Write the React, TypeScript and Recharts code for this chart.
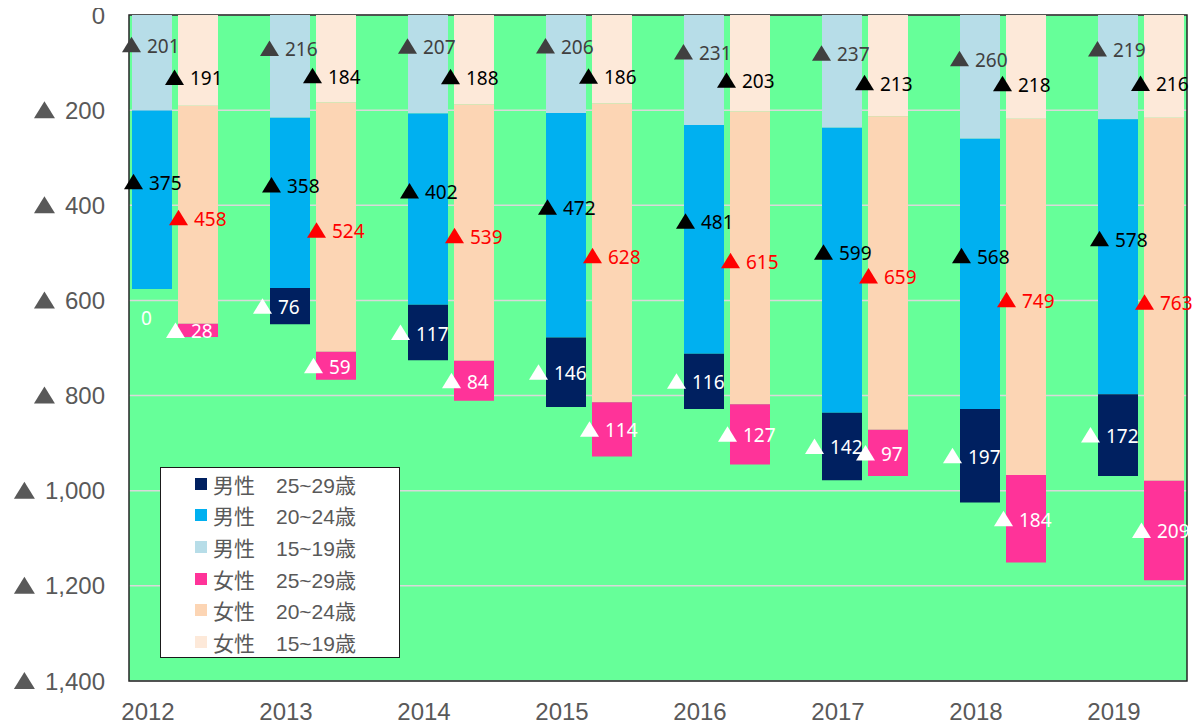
import { BarChart, Bar, XAxis, YAxis, CartesianGrid, Legend, LabelList, ReferenceArea } from 'recharts'

const years = ['2012', '2013', '2014', '2015', '2016', '2017', '2018', '2019']
const male15 = [201, 216, 207, 206, 231, 237, 260, 219]
const male20 = [375, 358, 402, 472, 481, 599, 568, 578]
const male25 = [0, 76, 117, 146, 116, 142, 197, 172]
const female15 = [191, 184, 188, 186, 203, 213, 218, 216]
const female20 = [458, 524, 539, 628, 615, 659, 749, 763]
const female25 = [28, 59, 84, 114, 127, 97, 184, 209]
const yTicks = [0, 200, 400, 600, 800, 1000, 1200, 1400]

const data = years.map((year, i) => ({
  idx: i,
  year,
  m15: male15[i],
  m20: male20[i],
  m25: male25[i],
  f15: female15[i],
  f20: female20[i],
  f25: female25[i],
}))

// stack order: first one sits next to 0 (top, axis is reversed)
const series = [
  { key: 'm15', stack: 'm', next: '', name: '男性　15~19歳', fill: '#B7DDE8', text: '#404040', dx: -10, dy: -18 },
  { key: 'm20', stack: 'm', next: 'm25', name: '男性　20~24歳', fill: '#00B0F0', text: '#000000', dx: -8, dy: -18 },
  { key: 'm25', stack: 'm', next: '', name: '男性　25~29歳', fill: '#002060', text: '#FFFFFF', dx: -17, dy: 0 },
  { key: 'f15', stack: 'f', next: '', name: '女性　15~19歳', fill: '#FDE9D9', text: '#000000', dx: -13, dy: 17 },
  { key: 'f20', stack: 'f', next: 'f25', name: '女性　20~24歳', fill: '#FCD5B4', text: '#FF0000', dx: -9, dy: 3 },
  { key: 'f25', stack: 'f', next: '', name: '女性　25~29歳', fill: '#FF3399', text: '#FFFFFF', dx: -12, dy: 0 },
]

const legendOrder = ['m25', 'm20', 'm15', 'f25', 'f20', 'f15']

function makeLabel(color: string, dx: number, dy: number, next: string) {
  return (props: any) => {
    const x = Number(props.x)
    const y = Number(props.y)
    const h = Number(props.height)
    const top = Math.min(y, y + h)
    const bottom = Math.max(y, y + h)
    const mid = top + Math.abs(h) / 2 + dy
    const tx = x + dx
    // a zero segment below this one gets no rect, so its "0" is drawn here
    const row: any = data[props.index]
    const zeroBelow = next && row && row[next] === 0
    return (
      <g>
        <polygon points={`${tx},${mid + 7.5} ${tx + 19},${mid + 7.5} ${tx + 9.5},${mid - 8}`} fill={color} />
        <text x={tx + 25} y={mid + 1} fill={color} fontSize={19} fontFamily="Noto Sans" dominantBaseline="central">
          {props.value}
        </text>
        {zeroBelow && (
          <text x={x + 9} y={bottom + 29} fill="#FFFFFF" fontSize={19} fontFamily="Noto Sans" dominantBaseline="central">
            0
          </text>
        )}
      </g>
    )
  }
}

const YTick = ({ x, y, payload }: any) => {
  const v = payload.value
  const label = v.toLocaleString('en-US')
  // rough Arial width of the number, to put the triangle before it
  const w = label.split('').reduce((acc: number, c: string) => acc + (c === ',' ? 6.7 : 13.35), 0)
  const tr = x - w - 10
  return (
    <g>
      {v !== 0 && <polygon points={`${tr - 21},${y + 8} ${tr},${y + 8} ${tr - 10.5},${y - 9}`} fill="#595959" />}
      <text x={x} y={y} textAnchor="end" dominantBaseline="central" fill="#595959" fontSize={24} fontFamily="Liberation Sans">
        {label}
      </text>
    </g>
  )
}

const XTick = ({ x, y, payload }: any) => (
  <text x={x - 27} y={y + 30} textAnchor="middle" dominantBaseline="central" fill="#595959" fontSize={24} fontFamily="Liberation Sans">
    {years[payload.value]}
  </text>
)

function LegendBox() {
  return (
    <div
      style={{
        width: 240,
        height: 191,
        boxSizing: 'border-box',
        border: '1.5px solid #1a1a1a',
        background: '#ffffff',
        fontFamily: '"Liberation Sans", "Noto Sans CJK JP", sans-serif',
        fontSize: 21,
        color: '#595959',
      }}
    >
      {legendOrder.map((k) => {
        const s = series.find((it) => it.key === k)!
        return (
          <div key={k} style={{ height: 31.6, display: 'flex', alignItems: 'center', position: 'relative' }}>
            <span style={{ position: 'absolute', left: 34, width: 12, height: 12, background: s.fill }} />
            <span style={{ position: 'absolute', left: 52, whiteSpace: 'pre' }}>{s.name}</span>
          </div>
        )
      })}
    </div>
  )
}

export default function App() {
  return (
    <div style={{ margin: -8, width: 1204, height: 728 }}>
      <BarChart
        width={1204}
        height={728}
        data={data}
        margin={{ top: 15, right: 17, bottom: 0, left: 0 }}
        barSize={40}
        barGap={6}
      >
        <CartesianGrid vertical={false} stroke="#D9D9D9" strokeWidth={1.5} fill="#66FF99" fillOpacity={1} />
        <XAxis
          dataKey="idx"
          type="number"
          domain={[-1 / 3, 22 / 3]}
          ticks={[0, 1, 2, 3, 4, 5, 6, 7]}
          interval={0}
          height={47}
          axisLine={false}
          tickLine={false}
          tickSize={0}
          tickMargin={0}
          tick={<XTick />}
        />
        <YAxis
          type="number"
          domain={[0, 1400]}
          ticks={yTicks}
          interval={0}
          reversed
          width={129}
          axisLine={false}
          tickLine={false}
          tickSize={0}
          tickMargin={24}
          tick={<YTick />}
        />
        {series.map((s) => (
          <Bar key={s.key} dataKey={s.key} stackId={s.stack} name={s.name} fill={s.fill} isAnimationActive={false}>
            <LabelList dataKey={s.key} content={makeLabel(s.text, s.dx, s.dy, s.next)} />
          </Bar>
        ))}
        <ReferenceArea x1={-1 / 3} x2={22 / 3} y1={0} y2={1400} fill="none" stroke="#262626" strokeWidth={1.5} />
        <Legend
          layout="vertical"
          align="center"
          verticalAlign="middle"
          wrapperStyle={{ left: 160, top: 467, width: 240, height: 191 }}
          content={() => <LegendBox />}
        />
      </BarChart>
    </div>
  )
}
